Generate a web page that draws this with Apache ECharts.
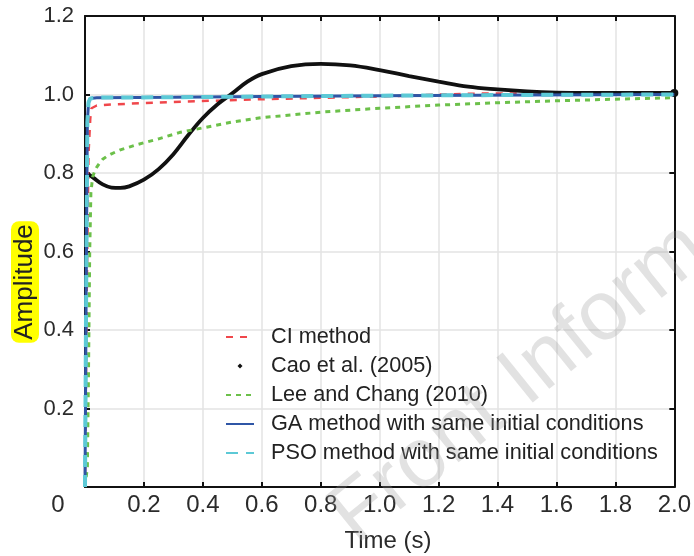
<!DOCTYPE html>
<html>
<head>
<meta charset="utf-8">
<script src="https://cdn.jsdelivr.net/npm/echarts@6/dist/echarts.min.js"></script>
<style>
html,body{margin:0;padding:0;background:#fff;}
#chart{width:694px;height:556px;}
</style>
</head>
<body>
<div id="chart"></div>
<script>
// ---- data ----
var xTicks = [0, 0.2, 0.4, 0.6, 0.8, 1.0, 1.2, 1.4, 1.6, 1.8, 2.0];
var yTicks = [0, 0.2, 0.4, 0.6, 0.8, 1.0, 1.2];

var seriesNames = ['CI method', 'Cao et al. (2005)', 'Lee and Chang (2010)',
  'GA method with same initial conditions', 'PSO method with same initial conditions'];

var tCI   = [0, 0.006, 0.012, 0.018, 0.022, 0.04, 0.1, 0.3, 0.6, 1.0, 1.3, 1.5, 1.7, 2.0];
var yCI   = [0, 0.5, 0.85, 0.94, 0.965, 0.972, 0.975, 0.981, 0.988, 0.995, 1.002, 1.003, 1.001, 1.0];

var tCao  = [0.012, 0.03, 0.06, 0.09, 0.12, 0.15, 0.2, 0.25, 0.3, 0.35, 0.4, 0.45, 0.5, 0.55, 0.6, 0.7, 0.8, 0.9, 1.0, 1.1, 1.2, 1.3, 1.4, 1.5, 1.6, 1.7, 1.8, 1.9, 2.0];
var yCao  = [0.797, 0.787, 0.771, 0.763, 0.762, 0.766, 0.783, 0.81, 0.848, 0.896, 0.94, 0.975, 1.003, 1.032, 1.052, 1.072, 1.078, 1.074, 1.062, 1.047, 1.033, 1.02, 1.013, 1.008, 1.005, 1.004, 1.004, 1.004, 1.004];

var tLee  = [0, 0.008, 0.012, 0.016, 0.02, 0.026, 0.033, 0.04, 0.05, 0.06, 0.075, 0.09, 0.12, 0.15, 0.18, 0.25, 0.32, 0.4, 0.5, 0.6, 0.8, 1.0, 1.2, 1.4, 1.6, 1.8, 2.0];
var yLee  = [0, 0.05, 0.3, 0.6, 0.75, 0.79, 0.805, 0.815, 0.826, 0.835, 0.843, 0.849, 0.859, 0.866, 0.873, 0.887, 0.903, 0.915, 0.93, 0.941, 0.955, 0.965, 0.973, 0.979, 0.984, 0.988, 0.992];

var tGA   = [0, 0.004, 0.008, 0.012, 0.018, 0.04, 0.3, 0.6, 1.0, 1.5, 2.0];
var yGA   = [0, 0.5, 0.93, 0.98, 0.99, 0.992, 0.993, 0.995, 0.997, 0.999, 1.0];

var tPSO  = [0, 0.004, 0.008, 0.012, 0.018, 0.04, 0.3, 0.6, 1.0, 1.5, 2.0];
var yPSO  = [0, 0.5, 0.93, 0.98, 0.99, 0.992, 0.993, 0.995, 0.997, 0.999, 1.0];

function pairs(t, y) { return t.map(function (v, i) { return [v, y[i]]; }); }

var caoData = pairs(tCao, yCao).map(function (p, i, arr) {
  return i === arr.length - 1 ? { value: p, symbolSize: 8 } : { value: p };
});

var FONT = 'Liberation Sans, Arial, sans-serif';
var TXT = '#2b2b2b';

var chart = echarts.init(document.getElementById('chart'), null, { renderer: 'canvas' });

var option = {
  animation: false,
  backgroundColor: '#ffffff',
  grid: { left: 85, right: 16, top: 16, bottom: 69, containLabel: false },
  xAxis: [{
    type: 'value', min: xTicks[0], max: xTicks[xTicks.length - 1], interval: 0.2,
    axisLine: { show: true, onZero: false, lineStyle: { color: '#111', width: 2 } },
    axisTick: { show: true, inside: true, length: 5, lineStyle: { color: '#111', width: 2 } },
    splitLine: { show: true, lineStyle: { color: '#e3e3e3', width: 1.5 } },
    axisLabel: {
      margin: 6, color: TXT, fontSize: 24, fontFamily: FONT,
      formatter: function (v) { return v === 0 ? '' : v.toFixed(1); }
    }
  }, {
    type: 'value', position: 'top', min: xTicks[0], max: xTicks[xTicks.length - 1], interval: 0.2,
    axisLine: { show: true, onZero: false, lineStyle: { color: '#111', width: 2 } },
    axisTick: { show: true, inside: true, length: 5, lineStyle: { color: '#111', width: 2 } },
    splitLine: { show: false }, axisLabel: { show: false }
  }],
  yAxis: [{
    type: 'value', min: yTicks[0], max: yTicks[yTicks.length - 1], interval: 0.2,
    axisLine: { show: true, onZero: false, lineStyle: { color: '#111', width: 2 } },
    axisTick: { show: true, inside: true, length: 5, lineStyle: { color: '#111', width: 2 } },
    splitLine: { show: true, lineStyle: { color: '#e3e3e3', width: 1.5 } },
    axisLabel: {
      margin: 11, color: TXT, fontSize: 22, fontFamily: FONT,
      formatter: function (v) { return v === 0 ? '' : v.toFixed(1); }
    }
  }, {
    type: 'value', position: 'right', min: yTicks[0], max: yTicks[yTicks.length - 1], interval: 0.2,
    axisLine: { show: true, onZero: false, lineStyle: { color: '#111', width: 2 } },
    axisTick: { show: true, inside: true, length: 5, lineStyle: { color: '#111', width: 2 } },
    splitLine: { show: false }, axisLabel: { show: false }
  }],
  legend: {
    orient: 'vertical', left: 225, top: 325, itemWidth: 28, itemHeight: 14, itemGap: 5,
    padding: 0,
    itemStyle: { opacity: 0 },
    textStyle: { color: '#222', fontSize: 21.7, fontFamily: FONT, lineHeight: 24, padding: [0, 0, 0, 12] },
    data: [
      { name: seriesNames[0] },
      { name: seriesNames[1], icon: 'path://M0 0M28 14M14 4.5L16.5 7L14 9.5L11.5 7Z', itemStyle: { opacity: 1, color: '#111', borderWidth: 0 } },
      { name: seriesNames[2] },
      { name: seriesNames[3] },
      { name: seriesNames[4] }
    ]
  },
  graphic: [
    { type: 'text', x: 58, y: 505, style: { text: '0', font: '24px ' + FONT, fill: TXT, align: 'center', verticalAlign: 'middle' } },
    { type: 'text', x: 388, y: 541, style: { text: 'Time (s)', font: '24px ' + FONT, fill: TXT, align: 'center', verticalAlign: 'middle' } },
    { type: 'text', x: 25, y: 282, rotation: Math.PI / 2,
      style: { text: 'Amplitude', font: '26px ' + FONT, fill: '#222', align: 'center', verticalAlign: 'middle',
        backgroundColor: '#ffff00', padding: [1, 3, 1, 3], borderRadius: 8 } },
    { type: 'text', x: 368, y: 560, rotation: 39 * Math.PI / 180, z: 100,
      style: { text: 'Front Inform', font: '84px ' + FONT, fill: 'rgba(150,150,150,0.28)', align: 'left', verticalAlign: 'bottom' } }
  ],
  series: [
    { name: seriesNames[0], type: 'line', data: pairs(tCI, yCI), showSymbol: false, symbol: 'none',
      color: '#f0474b', lineStyle: { color: '#f0474b', width: 2.5, type: [7, 7] }, z: 2 },
    { name: seriesNames[1], type: 'line', data: caoData, symbol: 'circle', symbolSize: 0, showSymbol: true, showAllSymbol: true,
      smooth: 0.4,
      color: '#111', itemStyle: { color: '#111', borderWidth: 0 }, lineStyle: { color: '#111', width: 3.8 }, z: 3 },
    { name: seriesNames[2], type: 'line', data: pairs(tLee, yLee), showSymbol: false, symbol: 'none',
      color: '#6cc04a', lineStyle: { color: '#6cc04a', width: 3, type: [5, 5] }, z: 4 },
    { name: seriesNames[3], type: 'line', data: pairs(tGA, yGA), showSymbol: false, symbol: 'none',
      color: '#2f56a6', lineStyle: { color: '#2f56a6', width: 3 }, z: 5 },
    { name: seriesNames[4], type: 'line', data: pairs(tPSO, yPSO), showSymbol: false, symbol: 'none',
      color: '#5cc9d6', lineStyle: { color: '#5cc9d6', width: 4, type: [12, 8] }, z: 6 }
  ]
};
chart.setOption(option);
</script>
</body>
</html>
